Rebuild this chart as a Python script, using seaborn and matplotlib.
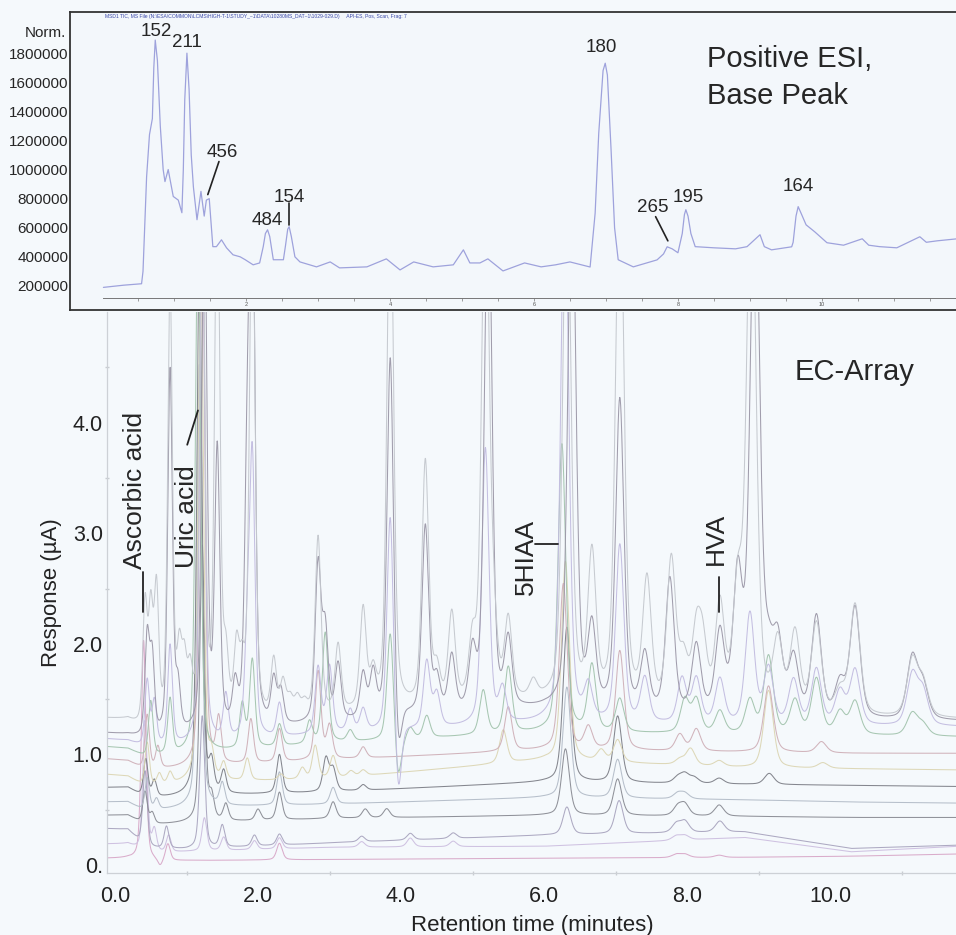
import numpy as np
import pandas as pd
import seaborn as sns
import matplotlib.pyplot as plt

sns.set_theme(style="white")
plt.rcParams['font.family'] = ['Liberation Sans', 'DejaVu Sans']

# ---------------- top panel: MS base peak ----------------
top_t = [0.02, 0.30, 0.55, 0.57, 0.62, 0.66, 0.70, 0.72, 0.74, 0.77, 0.81, 0.85, 0.875, 0.92,
         0.99, 1.06, 1.11, 1.13, 1.15, 1.18, 1.21, 1.24, 1.27, 1.32, 1.375, 1.42, 1.45, 1.49,
         1.54, 1.59, 1.66, 1.73, 1.82, 1.92, 1.99, 2.10, 2.19, 2.24, 2.27, 2.30, 2.33, 2.38,
         2.52, 2.55, 2.58, 2.60, 2.63, 2.68, 2.75, 2.98, 3.17, 3.30, 3.68, 3.95, 4.14, 4.33,
         4.60, 4.88, 5.02, 5.11, 5.25, 5.36, 5.57, 5.87, 6.10, 6.30, 6.50, 6.78, 6.85, 6.90,
         6.96, 6.99, 7.02, 7.07, 7.12, 7.17, 7.38, 7.71, 7.80, 7.85, 7.92, 8.00, 8.06, 8.09,
         8.11, 8.14, 8.18, 8.24, 8.50, 8.80, 8.96, 9.14, 9.20, 9.30, 9.58, 9.60, 9.64, 9.67,
         9.71, 9.78, 9.90, 10.07, 10.30, 10.56, 10.65, 10.80, 11.04, 11.36, 11.45, 11.60, 11.88]
top_v = [190000, 205000, 215000, 300000, 950000, 1240000, 1350000, 1700000, 1890000, 1750000,
         1300000, 1000000, 917000, 1000000, 815000, 790000, 703000, 1000000, 1480000, 1800000,
         1550000, 1100000, 880000, 655000, 850000, 680000, 790000, 800000, 470000, 470000,
         517000, 462000, 414000, 400000, 380000, 345000, 358000, 470000, 560000, 586000,
         540000, 380000, 380000, 480000, 590000, 607000, 540000, 400000, 365000, 331000,
         365000, 324000, 331000, 386000, 310000, 365000, 331000, 345000, 448000, 358000,
         358000, 386000, 303000, 358000, 331000, 345000, 365000, 330000, 700000, 1250000,
         1680000, 1731000, 1650000, 1150000, 600000, 380000, 331000, 379000, 420000, 469000,
         455000, 428000, 560000, 690000, 724000, 680000, 560000, 470000, 462000, 455000,
         470000, 552000, 470000, 448000, 469000, 500000, 680000, 745000, 700000, 620000,
         572000, 497000, 480000, 524000, 480000, 470000, 462000, 538000, 500000, 510000, 524000]

top_yticks = [200000, 400000, 600000, 800000, 1000000, 1200000, 1400000, 1600000, 1800000]
top_lab_txt = ["152", "211", "456", "484", "154", "180", "265", "195", "164"]
top_lab_t = [0.75, 1.18, 1.67, 2.29, 2.60, 6.94, 7.65, 8.14, 9.67]
top_lab_v = [1951000, 1876000, 1117000, 648000, 807000, 1841000, 738000, 807000, 883000]
top_lead_t = [(1.625, 1.47), (2.60, 2.60), (7.69, 7.86)]
top_lead_v = [(1055000, 828000), (772000, 621000), (676000, 510000)]

# ---------------- bottom panel: EC-array, 12 channels ----------------
base_t = [-0.15, 0.18, 0.42, 1.0, 3.0, 6.0, 8.8, 10.3, 11.8]
base_ch = [
    [0.06, 0.06, 0.03, 0.04, 0.05, 0.06, 0.07, 0.08, 0.10],
    [0.19, 0.19, 0.10, 0.12, 0.16, 0.17, 0.25, 0.12, 0.17],
    [0.33, 0.32, 0.15, 0.14, 0.20, 0.27, 0.30, 0.15, 0.18],
    [0.45, 0.45, 0.36, 0.38, 0.42, 0.45, 0.44, 0.43, 0.43],
    [0.57, 0.57, 0.48, 0.52, 0.55, 0.61, 0.59, 0.57, 0.56],
    [0.70, 0.70, 0.60, 0.62, 0.66, 0.75, 0.73, 0.72, 0.71],
    [0.82, 0.80, 0.70, 0.74, 0.78, 0.95, 0.88, 0.87, 0.86],
    [0.96, 0.94, 0.85, 0.88, 0.95, 1.04, 1.02, 1.01, 1.01],
    [1.07, 1.05, 0.97, 1.00, 1.10, 1.20, 1.18, 1.17, 1.16],
    [1.14, 1.12, 1.05, 1.08, 1.18, 1.28, 1.26, 1.25, 1.25],
    [1.19, 1.17, 1.12, 1.15, 1.27, 1.40, 1.32, 1.30, 1.30],
    [1.32, 1.30, 1.18, 1.22, 1.35, 1.46, 1.36, 1.33, 1.32],
]

pk_t0 = [0.40, 0.63, 0.74, 2.30, 7.85, 7.97, 8.45]
pk_h0 = [2.0, -0.06, 0.15, 0.15, 0.03, 0.03, 0.02]
pk_t1 = [0.42, 0.55, 0.75, 1.25, 1.52, 1.95, 2.30, 3.45, 4.13, 4.73, 7.85, 7.97]
pk_h1 = [1.2, 0.2, 0.15, 0.3, 0.12, 0.08, 0.1, 0.05, 0.08, 0.05, 0.04, 0.04]
pk_t2 = [0.42, 0.72, 1.22, 1.50, 1.95, 2.30, 3.45, 4.13, 4.73, 6.32, 7.05, 7.85, 7.97, 8.46]
pk_h2 = [0.7, 0.2, 1.2, 0.2, 0.1, 0.1, 0.05, 0.06, 0.05, 0.25, 0.3, 0.08, 0.1, 0.1]
pk_t3 = [0.42, 0.52, 1.22, 1.35, 1.55, 2.00, 2.30, 3.05, 3.50, 3.80, 6.30, 7.03, 7.87, 7.97, 8.45]
pk_h3 = [0.3, 0.1, 2.5, 0.2, 0.15, 0.1, 0.25, 0.15, 0.08, 0.08, 0.6, 0.33, 0.08, 0.1, 0.1]
pk_t4 = [0.45, 0.58, 1.18, 1.50, 2.30, 3.05, 6.32, 7.03, 7.87, 7.97]
pk_h4 = [0.3, 0.1, 4.0, 0.2, 0.3, 0.15, 1.0, 0.35, 0.05, 0.05]
pk_t5 = [0.43, 0.55, 1.18, 1.35, 1.52, 2.30, 2.95, 3.05, 3.47, 6.32, 7.03, 7.87, 7.97, 8.10, 8.45, 9.15]
pk_h5 = [0.35, 0.15, 5.0, 0.25, 0.2, 0.35, 0.3, 0.2, 0.05, 1.4, 0.6, 0.05, 0.08, 0.05, 0.05, 0.1]
pk_t6 = [0.45, 0.62, 0.77, 1.20, 1.35, 1.52, 1.85, 2.32, 2.62, 2.80, 3.05, 3.30, 3.47, 5.43,
         6.30, 6.80, 7.03, 7.90, 8.05, 8.45, 9.14, 9.90]
pk_h6 = [0.4, 0.1, 0.1, 5.0, 0.2, 0.15, 0.2, 0.05, 0.1, 0.3, 0.2, 0.05, 0.05, 0.3,
         1.8, 0.1, 0.2, 0.05, 0.15, 0.05, 0.7, 0.05]
pk_t7 = [0.45, 0.60, 1.22, 1.45, 1.90, 2.30, 2.84, 3.00, 3.47, 5.50, 6.27, 6.62, 7.06, 7.90, 8.13, 9.14, 9.88]
pk_h7 = [0.5, 0.2, 5.0, 0.4, 0.4, 0.3, 0.8, 0.3, 0.1, 0.4, 1.5, 0.2, 0.9, 0.15, 0.2, 0.6, 0.1]
pk_t8 = [0.50, 0.77, 1.16, 1.78, 1.92, 2.30, 2.72, 2.94, 3.29, 3.85, 3.96, 4.13, 4.36, 5.15, 5.50,
         6.25, 6.67, 7.06, 7.97, 8.13, 8.46, 8.88, 9.14, 9.51, 9.81, 10.14, 10.35, 11.15, 11.30]
pk_h8 = [0.5, 0.5, 5.0, 0.4, 0.8, 0.2, 0.2, 1.0, 0.1, 1.0, -0.4, 0.1, 0.2, 0.4, 0.6,
         2.6, 0.6, 0.3, 0.3, 0.3, 0.2, 0.3, 0.7, 0.3, 0.5, 0.2, 0.3, 0.2, 0.1]
pk_t9 = [0.45, 0.55, 0.77, 1.22, 1.55, 1.85, 1.92, 2.30, 2.84, 3.00, 3.29, 3.47, 3.85, 3.96, 4.36,
         4.50, 5.18, 5.42, 6.29, 6.62, 7.06, 7.41, 7.93, 8.13, 8.46, 8.88, 9.14, 9.49, 9.81,
         10.14, 10.35, 11.15, 11.30]
pk_h9 = [0.6, 0.4, 0.9, 5.0, 0.4, 0.8, 2.5, 0.3, 0.6, 0.6, 0.2, 0.2, 2.0, -0.7, 0.6,
         0.3, 2.5, 0.3, 5.0, 0.3, 1.6, 0.4, 0.4, 0.4, 0.4, 1.0, 0.5, 0.4, 0.5,
         0.3, 0.5, 0.45, 0.3]
pk_t10 = [0.45, 0.52, 0.77, 0.88, 1.25, 1.43, 1.68, 1.85, 1.92, 2.22, 2.32, 2.84, 2.94, 3.12, 3.47,
          3.61, 3.85, 3.96, 4.34, 4.50, 4.71, 5.00, 5.22, 5.50, 6.39, 6.67, 7.06, 7.41, 7.76,
          8.13, 8.46, 8.71, 8.95, 9.14, 9.27, 9.49, 9.81, 10.14, 10.35, 11.15, 11.30]
pk_h10 = [0.9, 0.7, 3.3, 0.4, 5.0, 2.5, 0.35, 2.1, 5.0, 0.4, 0.3, 1.4, 0.8, 0.5, 0.4,
          0.4, 3.3, -0.5, 1.7, 0.3, 0.5, 0.5, 5.0, 0.6, 5.0, 0.7, 2.8, 0.5, 1.2,
          0.6, 0.7, 1.2, 5.0, 0.4, 0.6, 0.5, 0.9, 0.3, 1.0, 0.55, 0.3]
pk_t11 = [0.42, 0.50, 0.58, 0.77, 0.90, 0.97, 1.05, 1.22, 1.43, 1.55, 1.70, 1.78, 1.92, 2.22, 2.35,
          2.45, 2.55, 2.65, 2.84, 3.12, 3.47, 3.61, 3.85, 4.34, 4.50, 4.71, 5.00, 5.18, 5.29,
          5.50, 5.85, 6.32, 6.67, 7.06, 7.44, 7.78, 7.95, 8.13, 8.22, 8.46, 8.71, 8.90, 9.27,
          9.51, 9.81, 10.14, 10.35, 11.15, 11.30]
pk_h11 = [1.1, 1.0, 1.2, 4.0, 0.6, 0.5, 0.4, 5.0, 5.0, 0.5, 0.6, 0.4, 5.0, 0.5, 0.3,
          0.15, 0.15, 0.1, 1.6, 0.6, 0.9, 0.3, 5.0, 2.2, 0.3, 0.8, 0.5, 5.0, 0.6,
          0.7, 0.15, 5.0, 1.3, 5.0, 1.1, 1.3, 0.4, 0.6, 0.5, 0.9, 1.0, 5.0, 0.6,
          0.7, 0.8, 0.2, 1.0, 0.5, 0.3]

pk_t_all = [pk_t0, pk_t1, pk_t2, pk_t3, pk_t4, pk_t5, pk_t6, pk_t7, pk_t8, pk_t9, pk_t10, pk_t11]
pk_h_all = [pk_h0, pk_h1, pk_h2, pk_h3, pk_h4, pk_h5, pk_h6, pk_h7, pk_h8, pk_h9, pk_h10, pk_h11]
ch_colors = ['#d8a8c8', '#cdbfe0', '#a9a5bf', '#8a8c94', '#b3bcc8', '#7e8088',
             '#dcd6b4', '#cfb0b8', '#a3c4ae', '#c2bce0', '#9c98a8', '#c4c8ce']

x_ticks = [0, 2, 4, 6, 8, 10]
x_ticklabels = ["0.0", "2.0", "4.0", "6.0", "8.0", "10.0"]
y_ticks = [0, 1, 2, 3, 4]
y_ticklabels = ["0.", "1.0", "2.0", "3.0", "4.0"]

bg = '#f5f9fc'
t_grid = np.linspace(-0.12, 11.8, 4000)


def channel(base, pk_t, pk_h):
    y = np.interp(t_grid, base_t, base)
    for tp, h in zip(pk_t, pk_h):
        w = 0.03 + 0.004 * tp
        g = np.exp(-0.5 * ((t_grid - tp) / w) ** 2)
        l = 1 / (1 + ((t_grid - tp) / (1.18 * w)) ** 2)
        y = y + h * (0.55 * g + 0.45 * l)
    return y


fig = plt.figure(figsize=(9.56, 9.35), dpi=100, facecolor=bg)

#%% bottom panel
ax = fig.add_axes([107 / 956, 1 - 873 / 935, (958 - 107) / 956, (873 - 312) / 935])
ax.set_facecolor(bg)
for i in range(len(base_ch)):
    df = pd.DataFrame({"t": t_grid, "r": channel(base_ch[i], pk_t_all[i], pk_h_all[i])})
    sns.lineplot(data=df, x="t", y="r", ax=ax, color=ch_colors[i], lw=0.75,
                 alpha=0.95, estimator=None, sort=False)
ax.set_xlim(-0.112, 11.79)
ax.set_ylim(-0.072, 5.0)
ax.set_xticks(x_ticks)
ax.set_xticklabels(x_ticklabels, fontsize=15.5)
ax.set_yticks(y_ticks)
ax.set_yticklabels(y_ticklabels, fontsize=15.5)
ax.set_xticks([1, 3, 5, 7, 9, 11], minor=True)
ax.set_yticks([0.5, 1.5, 2.5, 3.5, 4.5], minor=True)
ax.tick_params(axis='x', which='major', length=0, pad=9, colors='#222222')
ax.tick_params(axis='y', which='major', length=0, pad=3, colors='#222222')
ax.tick_params(which='minor', length=3, direction='inout', color='#c8ccd2', bottom=True, left=True)
for s in ['top', 'right']:
    ax.spines[s].set_visible(False)
for s in ['left', 'bottom']:
    ax.spines[s].set_color('#cdd1d6')
    ax.spines[s].set_linewidth(0.9)
ax.set_xlabel("Retention time (minutes)", fontsize=16, labelpad=6, color='#222222')
ax.set_ylabel("Response (µA)", fontsize=16, labelpad=8, color='#222222')

# compound labels
ax.text(0.28, 3.39, "Ascorbic acid", rotation=90, fontsize=19, ha='center', va='center')
ax.plot([0.39, 0.39], [2.65, 2.29], color='#222222', lw=1.3)
ax.text(1.0, 3.15, "Uric acid", rotation=90, fontsize=19, ha='center', va='center')
ax.plot([1.01, 1.16], [3.80, 4.11], color='#222222', lw=1.3)
ax.text(5.75, 2.79, "5HIAA", rotation=90, fontsize=19, ha='center', va='center')
ax.plot([5.87, 6.20], [2.90, 2.90], color='#222222', lw=1.3)
ax.text(8.41, 2.95, "HVA", rotation=90, fontsize=19, ha='center', va='center')
ax.plot([8.45, 8.45], [2.60, 2.29], color='#222222', lw=1.3)
ax.text(9.51, 4.46, "EC-Array", fontsize=21, ha='left', va='center')

#%% top panel
axt = fig.add_axes([70 / 956, 1 - 310 / 935, (958 - 70) / 956, (310 - 12) / 935])
axt.set_facecolor('#f3f7fb')
sns.lineplot(x=top_t, y=top_v, ax=axt, color='#9ea2dc', lw=0.9, estimator=None, sort=False)
axt.set_xlim(-0.444, 11.89)
axt.set_ylim(34500, 2083000)
axt.set_xticks([])
axt.set_yticks(top_yticks)
axt.set_yticklabels([str(v) for v in top_yticks], fontsize=11)
axt.tick_params(axis='y', length=0, pad=1)
for s in axt.spines.values():
    s.set_color('#333333')
    s.set_linewidth(1.3)

sec = axt.secondary_xaxis(0.0403)
sec.set_xticks([2, 4, 6, 8, 10])
sec.set_xticklabels(["2", "4", "6", "8", "10"], fontsize=4, color='#555555')
sec.set_xticks(np.arange(0.5, 11.6, 0.5), minor=True)
sec.tick_params(which='both', length=2, width=0.5, color='#777777', pad=1)
sec.spines['bottom'].set_color('#777777')
sec.spines['bottom'].set_linewidth(0.7)
sec.spines['bottom'].set_bounds(0.02, 11.89)

for txt, tt, vv in zip(top_lab_txt, top_lab_t, top_lab_v):
    axt.text(tt, vv, txt, fontsize=13.5, ha='center', va='center')
for lt, lv in zip(top_lead_t, top_lead_v):
    axt.plot(lt, lv, color='#222222', lw=1.2)

axt.text(8.40, 1758000, "Positive ESI,", fontsize=21, ha='left', va='center')
axt.text(8.40, 1503000, "Base Peak", fontsize=21, ha='left', va='center')
axt.text(0.04, 2050000,
         r"MSD1 TIC, MS File (N:\ESA\COMMON\LCMS\HIGH-T-1\STUDY_~1\DATA\10280MS_DAT~1\1029-029.D)"
         "     API-ES, Pos, Scan, Frag: 7",
         fontsize=3.6, color='#3a48a8', ha='left', va='center')
fig.text(45 / 956, 1 - 33 / 935, "Norm.", fontsize=11, ha='center', va='center')

fig.savefig("out.png", dpi=100, facecolor=bg)
